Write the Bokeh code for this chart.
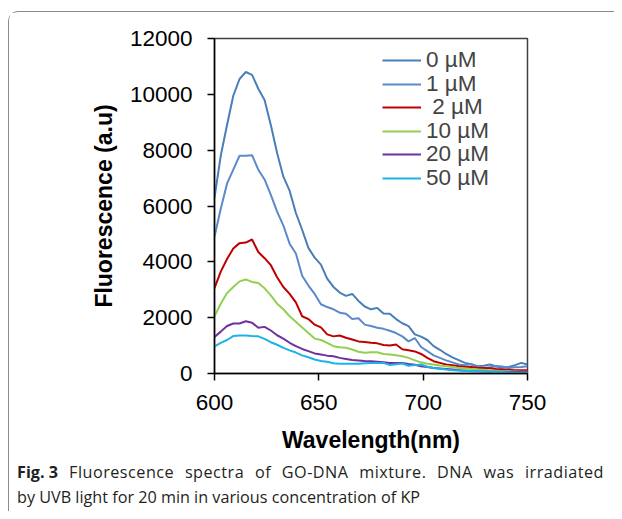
from bokeh.plotting import figure
from bokeh.models import Legend, LegendItem, FixedTicker, Range1d, Div, Spacer
from bokeh.layouts import column, row
from bokeh.embed import file_html
from bokeh.resources import INLINE

wavelength = list(range(600, 751, 3))

s0 = [6300, 7800, 8900, 9950, 10550, 10800, 10700, 10200, 9800, 8900, 7900, 7050, 6550, 5750,
      5150, 4500, 4150, 3900, 3400, 3100, 2900, 2780, 2850, 2600, 2400, 2300, 2350, 2150, 2140,
      1950, 1800, 1700, 1400, 1320, 1200, 980, 850, 700, 580, 480, 380, 330, 260, 280, 320, 250,
      200, 230, 300, 380, 320]
s1 = [4900, 5900, 6800, 7300, 7800, 7800, 7820, 7300, 6950, 6400, 5800, 5300, 4650, 4300, 3500,
      3150, 2850, 2480, 2380, 2300, 2180, 2140, 1950, 1980, 1750, 1700, 1640, 1600, 1530, 1450,
      1330, 1150, 1270, 950, 800, 650, 560, 470, 400, 320, 300, 330, 250, 200, 220, 270, 250, 200,
      220, 230, 260]
s2 = [3060, 3650, 4100, 4480, 4670, 4690, 4800, 4350, 4130, 3880, 3450, 3100, 2850, 2550, 2050,
      1950, 1750, 1650, 1400, 1330, 1360, 1280, 1220, 1150, 1130, 1100, 1080, 1020, 1000, 1040,
      870, 830, 790, 700, 560, 440, 380, 320, 300, 260, 240, 230, 210, 200, 190, 160, 140, 130,
      120, 120, 120]
s10 = [2050, 2500, 2880, 3100, 3300, 3370, 3280, 3240, 3050, 2800, 2500, 2300, 2050, 1850, 1650,
       1450, 1250, 1200, 1100, 980, 940, 920, 860, 780, 740, 760, 760, 700, 680, 650, 620, 560,
       470, 400, 350, 320, 290, 260, 230, 200, 180, 160, 140, 130, 110, 100, 80, 80, 70, 60, 60]
s20 = [1310, 1500, 1700, 1790, 1790, 1870, 1820, 1640, 1670, 1540, 1370, 1250, 1100, 980, 880,
       800, 720, 680, 640, 620, 560, 520, 480, 470, 450, 440, 420, 400, 380, 380, 380, 340, 310,
       260, 230, 200, 180, 160, 140, 120, 100, 80, 80, 70, 60, 60, 60, 50, 50, 50, 50]
s50 = [975, 1100, 1200, 1340, 1360, 1360, 1340, 1330, 1240, 1120, 1030, 920, 830, 750, 650, 580,
       500, 450, 420, 370, 350, 350, 350, 350, 370, 380, 380, 380, 300, 330, 360, 280, 300, 320,
       240, 200, 170, 140, 120, 110, 100, 90, 80, 70, 60, 50, 50, 40, 30, 30, 25]

labels = ["0 \u00b5M", "1 \u00b5M", "\u00a02 \u00b5M", "10 \u00b5M", "20 \u00b5M", "50 \u00b5M"]
series = [s0, s1, s2, s10, s20, s50]
colors = ["#4A7EBB", "#5A8ACB", "#C00000", "#92D050", "#7030A0", "#1CB4E8"]

y_ticks = [0, 2000, 4000, 6000, 8000, 10000, 12000]
x_ticks = [600, 650, 700, 750]

caption_line1_bold = "Fig. 3"
caption_line1 = "Fluorescence spectra of GO-DNA mixture. DNA was irradiated"
caption_line2 = "by UVB light for 20 min in various concentration of KP"

# page position of the figure (inside the rounded caption box)
OX, OY = 9, 12
PW, PH = 605, 443
p = figure(width=PW, height=PH, output_backend="svg", toolbar_location=None,
           x_range=Range1d(600, 750), y_range=Range1d(0, 12000),
           min_border_left=214 - OX, min_border_right=PW - (527 - OX),
           min_border_top=38 - OY, min_border_bottom=PH - (374 - OY))
p.xgrid.visible = False
p.ygrid.visible = False
p.background_fill_color = "white"
p.border_fill_color = "white"
p.outline_line_color = "#404040"
p.outline_line_width = 1.5

for ax in (p.xaxis[0], p.yaxis[0]):
    ax.axis_line_color = "black"
    ax.axis_line_width = 1.5
    ax.major_tick_line_color = "black"
    ax.major_tick_line_width = 1.5
    ax.major_tick_out = 7
    ax.major_tick_in = 0
    ax.minor_tick_line_color = None
    ax.major_label_text_font = "Liberation Sans"
    ax.major_label_text_font_size = "22.5px"
    ax.major_label_text_color = "black"
    ax.axis_label_text_font = "Liberation Sans"
    ax.axis_label_text_font_style = "bold"
    ax.axis_label_text_font_size = "23px"
    ax.axis_label_text_color = "black"

p.xaxis.ticker = FixedTicker(ticks=x_ticks)
p.yaxis.ticker = FixedTicker(ticks=y_ticks)
p.xaxis.axis_label = "Wavelength(nm)"
p.yaxis.axis_label = "Fluorescence (a.u)"
p.xaxis.major_label_standoff = 14
p.yaxis.major_label_standoff = 15
p.xaxis.axis_label_standoff = 14
p.yaxis.axis_label_standoff = 10

legend_bottoms = [300, 276, 253, 229, 206, 182]
for lab, s, c, lb in zip(labels, series, colors, legend_bottoms):
    r = p.line(wavelength, s, line_color=c, line_width=2)
    lg = Legend(items=[LegendItem(label=lab, renderers=[r])], location=(168, lb),
                padding=0, margin=0, spacing=0,
                label_text_font="Liberation Sans", label_text_font_size="22.5px",
                label_height=24, glyph_height=24, glyph_width=39, label_standoff=5,
                border_line_color=None, background_fill_alpha=0)
    p.add_layout(lg, "center")

caption = Div(
    text=(f'<div style="display:flex;width:587px">'
          f'<b style="margin-right:11px;white-space:nowrap">{caption_line1_bold}</b>'
          f'<span style="flex:1;text-align:justify;text-align-last:justify;'
          f'letter-spacing:0.5px">{caption_line1}</span></div>'
          f'<div>{caption_line2}</div>'),
    width=PW, height=519 - (OY + PH) - 8,
    styles={"font-family": "'Open Sans'", "font-size": "16.2px", "line-height": "25px",
            "color": "#231f20", "padding-left": "8px", "padding-top": "5px", "margin": "0"})

boxed = column(p, caption, spacing=0,
               styles={"border-left": "1px solid #8a8a8a", "border-top": "1px solid #8a8a8a",
                       "border-top-left-radius": "10px"})
root = column(Spacer(height=OY - 1), row(Spacer(width=OX - 1), boxed, spacing=0), spacing=0)

open("out.html", "w").write(file_html(root, INLINE))
